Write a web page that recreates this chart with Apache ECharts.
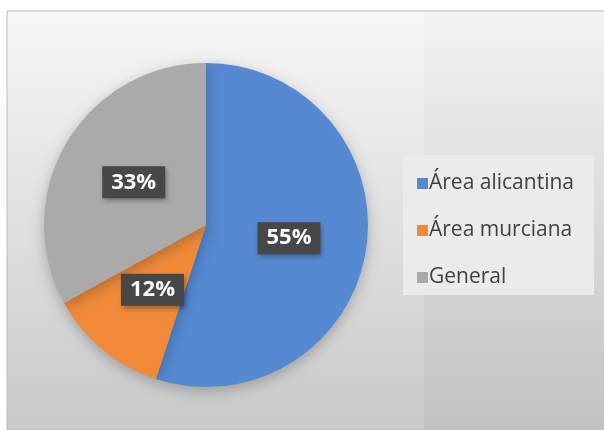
<!DOCTYPE html>
<html>
<head>
<meta charset="utf-8">
<script src="https://cdn.jsdelivr.net/npm/echarts@6/dist/echarts.min.js"></script>
<style>
  html, body { margin: 0; padding: 0; background: #fff; }
  #pieBox { width: 604px; height: 430px; }
</style>
</head>
<body>
<div id="pieBox"></div>
<script>
// reparto por área
var categories = ['Área alicantina', 'Área murciana', 'General'];
var values = [55, 12, 33];
var colors = ['#5589d2', '#f08a38', '#aaaaaa'];

function loadPie() {
    var chart = echarts.init(document.getElementById('pieBox'));
    var data = categories.map(function (name, i) {
        return { name: name, value: values[i], itemStyle: { color: colors[i] } };
    });

    var option = {
        animation: false,
        graphic: [
            {
                type: 'rect',
                shape: { x: 7, y: 11, width: 597, height: 419 },
                style: {
                    fill: new echarts.graphic.LinearGradient(0, 0, 0, 1, [
                        { offset: 0, color: '#f7f7f7' },
                        { offset: 1, color: '#c9c9c9' }
                    ]),
                    stroke: '#bdbdbd',
                    lineWidth: 1
                },
                z: -10
            },
            {
                type: 'rect',
                shape: { x: 424, y: 12, width: 180, height: 418 },
                style: {
                    fill: new echarts.graphic.LinearGradient(0, 0, 0, 1, [
                        { offset: 0, color: '#f3f3f3' },
                        { offset: 1, color: '#c2c2c2' }
                    ])
                },
                z: -9
            },
            {
                type: 'rect',
                shape: { x: 403, y: 155, width: 191, height: 140 },
                style: { fill: '#ebebeb' },
                z: -8
            }
        ],
        legend: {
            orient: 'vertical',
            left: 412,
            top: 168,
            itemWidth: 11,
            itemHeight: 11,
            itemGap: 26,
            icon: 'rect',
            textStyle: {
                fontFamily: 'Open Sans',
                fontSize: 21,
                color: '#404040',
                padding: [0, 0, 0, -4]
            },
            data: categories
        },
        series: [
            {
                type: 'pie',
                center: [206, 225],
                radius: [0, 162],
                startAngle: 90,
                clockwise: true,
                data: data,
                itemStyle: {
                    shadowBlur: 14,
                    shadowColor: 'rgba(0,0,0,0.25)',
                    shadowOffsetY: 4
                },
                label: {
                    position: 'inside',
                    formatter: '{d}%',
                    fontFamily: 'Open Sans',
                    fontWeight: 'bold',
                    fontSize: 22,
                    color: '#fff',
                    backgroundColor: '#474747',
                    padding: [6, 9, 4, 9],
                    shadowBlur: 5,
                    shadowColor: 'rgba(0,0,0,0.35)',
                    shadowOffsetX: 2,
                    shadowOffsetY: 3
                },
                labelLine: { show: false }
            }
        ]
    };

    chart.setOption(option);
}

loadPie();
</script>
</body>
</html>
